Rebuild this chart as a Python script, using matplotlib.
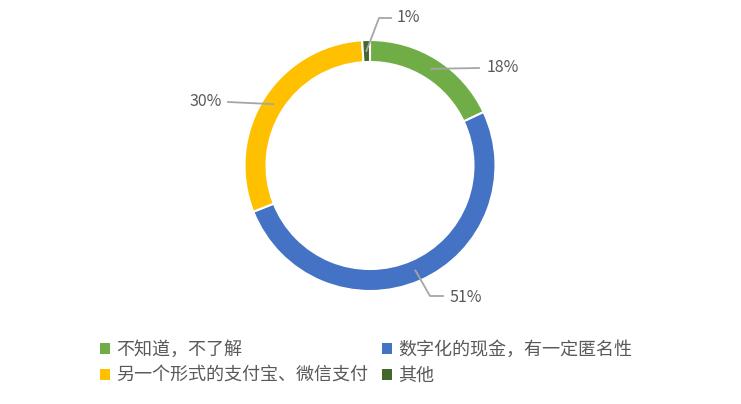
import matplotlib.pyplot as plt
from matplotlib.patches import Patch
import numpy as np

plt.rcParams['font.family'] = ['Noto Sans CJK SC', 'DejaVu Sans']

# data
categories = ['不知道，不了解', '数字化的现金，有一定匿名性', '另一个形式的支付宝、微信支付', '其他']
values = [18, 51, 30, 1]
colors = ['#70AD47', '#4472C4', '#FFC000', '#43682B']
text_col = '#595959'
line_col = '#A6A6A6'

W, H = 741, 404
fig = plt.figure(figsize=(W / 100, H / 100), dpi=100)
ax = fig.add_axes([0, 0, 1, 1])

cx, cy = 370, H - 165.5
R = 125.5
ring = 22
wedges, _ = ax.pie(values, colors=colors, startangle=90, counterclock=False,
                   center=(cx, cy), radius=R,
                   wedgeprops=dict(width=ring, edgecolor='white', linewidth=1.5),
                   frame=True)
ax.set_xlim(0, W)
ax.set_ylim(0, H)
ax.set_aspect('equal')
ax.axis('off')

# label text positions (pixels, top-left origin)
label_pos = [(487, 68), (449, 297), (190, 102), (397, 18)]
elbow = [None, (430, 296), None, (379, 18)]

for w, v, (lx, ly), el in zip(wedges, values, label_pos, elbow):
    ang = np.deg2rad((w.theta1 + w.theta2) / 2)
    rm = R - ring / 2
    px = cx + rm * np.cos(ang)
    py = cy + rm * np.sin(ang)
    ty = H - ly
    if el is None:
        end_x = lx - 8 if lx > cx else lx + 38
        ax.plot([px, end_x], [py, ty], color=line_col, lw=1.3)
    else:
        ex, ey = el[0], H - el[1]
        ax.plot([px, ex, lx - 6], [py, ey, ey], color=line_col, lw=1.3)
    ax.text(lx, ty, f'{v}%', fontsize=11.5, color=text_col, ha='left', va='center')

# legend, filled row by row
order = [0, 2, 1, 3]
handles = [Patch(facecolor=colors[i], edgecolor='none') for i in order]
labels = [categories[i] for i in order]
fig.legend(handles, labels, loc='upper left', bbox_to_anchor=(84 / W, 1 - 325 / H),
           ncol=2, frameon=False, fontsize=13, labelcolor=text_col,
           handlelength=0.55, handleheight=0.55, handletextpad=0.35,
           columnspacing=0.75, labelspacing=0.42)

fig.savefig('out.png', dpi=100)
